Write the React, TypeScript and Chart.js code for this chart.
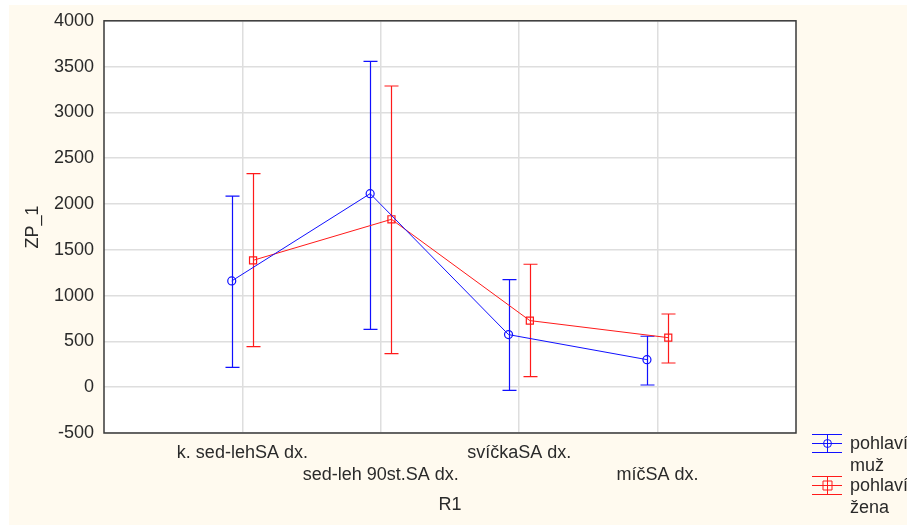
import React, { useEffect, useRef } from "react";
import { Chart, registerables } from "chart.js";

Chart.register(...registerables);

const categories = ["k. sed-lehSA dx.", "sed-leh 90st.SA dx.", "svíčkaSA dx.", "míčSA dx."];
const seriesLabels = [["pohlaví", "muž"], ["pohlaví", "žena"]];
const muzMean = [1160, 2113, 574, 301];
const muzUpper = [2087, 3558, 1175, 556];
const muzLower = [217, 632, -34, 24];
const zenaMean = [1385, 1833, 727, 541];
const zenaUpper = [2332, 3288, 1342, 799];
const zenaLower = [443, 367, 116, 264];
const yTicks = [-500, 0, 500, 1000, 1500, 2000, 2500, 3000, 3500, 4000];

const BLUE = "#1010ff";
const RED = "#ff1a1a";
const FONT = "'Liberation Sans', Arial, sans-serif";
const TEXT = "#2a2a2a";
const OFFSET = 0.077;
const FS = 18;

const uppers = [muzUpper, zenaUpper];
const lowers = [muzLower, zenaLower];

const bgPlugin = {
  id: "bgPlugin",
  beforeDraw(chart: any) {
    const ctx = chart.ctx;
    ctx.save();
    ctx.fillStyle = "#fffaef";
    ctx.fillRect(9, 5, chart.width - 9, chart.height - 5);
    const a = chart.chartArea;
    ctx.fillStyle = "#ffffff";
    ctx.fillRect(a.left, a.top, a.right - a.left, a.bottom - a.top);
    ctx.restore();
  },
  afterDraw(chart: any) {
    const ctx = chart.ctx;
    const a = chart.chartArea;
    ctx.save();
    ctx.strokeStyle = "#3a3a3a";
    ctx.lineWidth = 1.5;
    ctx.strokeRect(a.left, a.top, a.right - a.left, a.bottom - a.top);
    // legend
    const items = chart.data.datasets;
    const x0 = 812;
    const w = 30;
    const y0 = [443, 485];
    items.forEach((ds: any, i: number) => {
      const cy = y0[i];
      const cx = x0 + w / 2;
      ctx.strokeStyle = ds.borderColor;
      ctx.lineWidth = 1;
      ctx.beginPath();
      ctx.moveTo(x0, cy - 8.5); ctx.lineTo(x0 + w, cy - 8.5);
      ctx.moveTo(x0, cy + 0.5); ctx.lineTo(x0 + w, cy + 0.5);
      ctx.moveTo(x0, cy + 9.5); ctx.lineTo(x0 + w, cy + 9.5);
      ctx.moveTo(cx + 0.5, cy - 8.5); ctx.lineTo(cx + 0.5, cy + 9.5);
      ctx.stroke();
      ctx.beginPath();
      if (i === 0) {
        ctx.arc(cx + 0.5, cy + 0.5, 4, 0, Math.PI * 2);
      } else {
        ctx.rect(cx - 4, cy - 4, 9, 9);
      }
      ctx.stroke();
      ctx.fillStyle = TEXT;
      ctx.font = `${FS}px ${FONT}`;
      ctx.textBaseline = "middle";
      ctx.textAlign = "left";
      const lbl = seriesLabels[i];
      lbl.forEach((t: string, k: number) => {
        ctx.fillText(t, 850, cy + 1 + k * 22);
      });
    });
    ctx.restore();
  },
};

const errPlugin = {
  id: "errPlugin",
  beforeDatasetsDraw(chart: any) {
    const ctx = chart.ctx;
    const xs = chart.scales.x;
    const ys = chart.scales.y;
    ctx.save();
    chart.data.datasets.forEach((ds: any, di: number) => {
      ctx.strokeStyle = ds.borderColor;
      ctx.lineWidth = 1.2;
      ds.data.forEach((p: any, i: number) => {
        const px = Math.round(xs.getPixelForValue(p.x)) + 0.5;
        const yu = ys.getPixelForValue(uppers[di][i]);
        const yl = ys.getPixelForValue(lowers[di][i]);
        ctx.beginPath();
        ctx.moveTo(px, yu); ctx.lineTo(px, yl);
        ctx.moveTo(px - 7, yu); ctx.lineTo(px + 7, yu);
        ctx.moveTo(px - 7, yl); ctx.lineTo(px + 7, yl);
        ctx.stroke();
      });
    });
    ctx.restore();
  },
};

export default function App() {
  const ref = useRef<HTMLCanvasElement | null>(null);
  useEffect(() => {
    if (!ref.current) return;
    const chart = new Chart(ref.current, {
      type: "line",
      data: {
        datasets: [
          {
            label: seriesLabels[0].join(" "),
            data: muzMean.map((v, i) => ({ x: i + 1 - OFFSET, y: v })),
            borderColor: BLUE,
            backgroundColor: "transparent",
            borderWidth: 1,
            pointStyle: "circle",
            pointRadius: 4,
            pointBorderWidth: 1.2,
            pointBorderColor: BLUE,
            pointBackgroundColor: "transparent",
            tension: 0,
          },
          {
            label: seriesLabels[1].join(" "),
            data: zenaMean.map((v, i) => ({ x: i + 1 + OFFSET, y: v })),
            borderColor: RED,
            backgroundColor: "transparent",
            borderWidth: 1,
            pointStyle: "rect",
            pointRadius: 5,
            pointBorderWidth: 1.2,
            pointBorderColor: RED,
            pointBackgroundColor: "transparent",
            tension: 0,
          },
        ],
      },
      options: {
        animation: false,
        responsive: false,
        clip: false as any,
        layout: { padding: { top: 20, right: 111, left: 0, bottom: 0 } },
        plugins: { legend: { display: false }, tooltip: { enabled: false } },
        scales: {
          x: {
            type: "linear",
            min: 0,
            max: 5,
            afterBuildTicks: (scale: any) => {
              scale.ticks = categories.map((_, i) => ({ value: i + 1 }));
            },
            afterFit: (scale: any) => {
              scale.height = 92;
            },
            grid: { color: "#dedede", lineWidth: 1.5, drawTicks: false },
            border: { display: false },
            ticks: {
              autoSkip: false,
              maxRotation: 0,
              minRotation: 0,
              padding: 9,
              color: TEXT,
              font: { family: FONT, size: FS, lineHeight: 1.22 },
              callback: (v: any) => {
                const i = Math.round(Number(v)) - 1;
                const t = categories[i];
                if (t === undefined) return "";
                return i % 2 === 0 ? [t] : ["", t];
              },
            },
            title: {
              display: true,
              text: "R1",
              color: TEXT,
              font: { family: FONT, size: FS },
              padding: { top: 0, bottom: 9 },
            },
          },
          y: {
            type: "linear",
            min: -500,
            max: 4000,
            afterBuildTicks: (scale: any) => {
              scale.ticks = yTicks.map((v) => ({ value: v }));
            },
            afterFit: (scale: any) => {
              scale.width = 104;
            },
            grid: { color: "#dedede", lineWidth: 1.5, drawTicks: false },
            border: { display: false },
            ticks: {
              padding: 10,
              color: TEXT,
              font: { family: FONT, size: FS },
              callback: (v: any) => String(v),
            },
            title: {
              display: true,
              text: "ZP_1",
              color: TEXT,
              font: { family: FONT, size: FS },
              padding: { top: 22, bottom: 0 },
            },
          },
        },
      },
      plugins: [bgPlugin, errPlugin],
    });
    return () => chart.destroy();
  }, []);
  return (
    <div style={{ position: "absolute", left: 0, top: 0, width: 907, height: 525, background: "#ffffff" }}>
      <canvas ref={ref} width={907} height={525} style={{ display: "block" }} />
    </div>
  );
}
